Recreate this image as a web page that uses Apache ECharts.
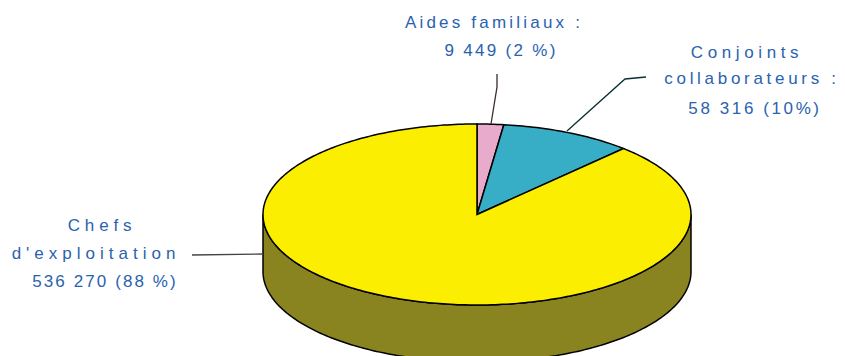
<!DOCTYPE html>
<html>
<head>
<meta charset="utf-8">
<style>
  html, body { margin: 0; padding: 0; background: #fff; }
  #chart { width: 845px; height: 356px; }
</style>
<script src="https://cdn.jsdelivr.net/npm/echarts@6/dist/echarts.min.js"></script>
</head>
<body>
<div id="chart"></div>
<script>
// slices go clockwise from 12 o'clock, the picture follows the rounded shares
var categories = ['Aides familiaux', 'Conjoints collaborateurs', "Chefs d'exploitation"];
var shares = [2, 10, 88];
var colors = ['#e8abcb', '#37aec6', '#fcee00'];
var wallColors = ['#8a6f80', '#1f6877', '#8a8420'];

var labelLines = [
  { text: 'Aides familiaux :', x: 494, y: 22, spacing: 3.2 },
  { text: '9 449 (2 %)', x: 501, y: 50, spacing: 2.3 },
  { text: 'Conjoints', x: 747, y: 52, spacing: 4.6 },
  { text: 'collaborateurs :', x: 752, y: 78, spacing: 3.7 },
  { text: '58 316 (10%)', x: 755, y: 108, spacing: 2.6 },
  { text: 'Chefs', x: 102, y: 225, spacing: 4.8 },
  { text: "d'exploitation", x: 96, y: 253, spacing: 5 },
  { text: '536 270 (88 %)', x: 105, y: 281, spacing: 2.1 }
];
var leaders = [
  { points: [[491, 124], [497, 87], [497, 74]], color: '#3a2a30' },
  { points: [[567, 131], [625, 79], [646, 77]], color: '#0a3035' },
  { points: [[192, 255], [263, 254]], color: '#444444' }
];

var cx = 477, cy = 214.5, rx = 214, ry = 90.5, depth = 57;

function edgePoint(deg, dy) {
  var a = deg * Math.PI / 180;
  return [cx + rx * Math.sin(a), cy - ry * Math.cos(a) + dy];
}

function arcPoints(from, to, dy) {
  var pts = [];
  var n = Math.max(2, Math.ceil(Math.abs(to - from)));
  for (var i = 0; i <= n; i++) {
    pts.push(edgePoint(from + (to - from) * i / n, dy));
  }
  return pts;
}

function renderSlice(params, api) {
  var i = params.dataIndex;
  var total = shares.reduce(function(a, b) { return a + b; }, 0);
  var before = 0;
  for (var k = 0; k < i; k++) before += shares[k];
  var start = before / total * 360;
  var end = (before + api.value(0)) / total * 360;
  var children = [];

  // only the front half of the wall can be seen
  var wFrom = Math.max(start, 90), wTo = Math.min(end, 270);
  if (wTo > wFrom) {
    var wall = arcPoints(wFrom, wTo, 0).concat(arcPoints(wTo, wFrom, depth));
    children.push({
      type: 'polygon',
      shape: { points: wall },
      style: { fill: wallColors[i], stroke: '#000', lineWidth: 1.5 }
    });
  }
  children.push({
    type: 'polygon',
    shape: { points: [[cx, cy]].concat(arcPoints(start, end, 0)) },
    style: { fill: colors[i], stroke: '#000', lineWidth: 1.5 }
  });
  return { type: 'group', children: children };
}

var graphics = [];
leaders.forEach(function(l) {
  graphics.push({
    type: 'polyline',
    z: 10,
    shape: { points: l.points },
    style: { fill: null, stroke: l.color, lineWidth: 1.3 }
  });
});
labelLines.forEach(function(l) {
  graphics.push({
    type: 'text',
    z: 10,
    x: l.x,
    y: l.y,
    style: {
      text: l.text,
      fill: '#2a62b0',
      font: '17px "Liberation Sans", Arial, sans-serif',
      textAlign: 'center',
      textVerticalAlign: 'middle'
    }
  });
});

var option = {
  backgroundColor: '#fff',
  animation: false,
  graphic: { elements: graphics },
  series: [
    {
      type: 'custom',
      coordinateSystem: 'none',
      silent: true,
      renderItem: renderSlice,
      data: shares.map(function(v, i) {
        return { name: categories[i], value: [v] };
      })
    }
  ]
};

var chart = echarts.init(document.getElementById('chart'), null, { renderer: 'svg' });

// the original labels are widely tracked, zrender has no option for it
function spaceLabels() {
  var nodes = document.querySelectorAll('#chart svg text');
  for (var i = 0; i < nodes.length; i++) {
    for (var j = 0; j < labelLines.length; j++) {
      if (nodes[i].textContent === labelLines[j].text) {
        nodes[i].style.letterSpacing = labelLines[j].spacing + 'px';
      }
    }
  }
}
chart.on('finished', spaceLabels);
chart.setOption(option);
spaceLabels();
</script>
</body>
</html>
